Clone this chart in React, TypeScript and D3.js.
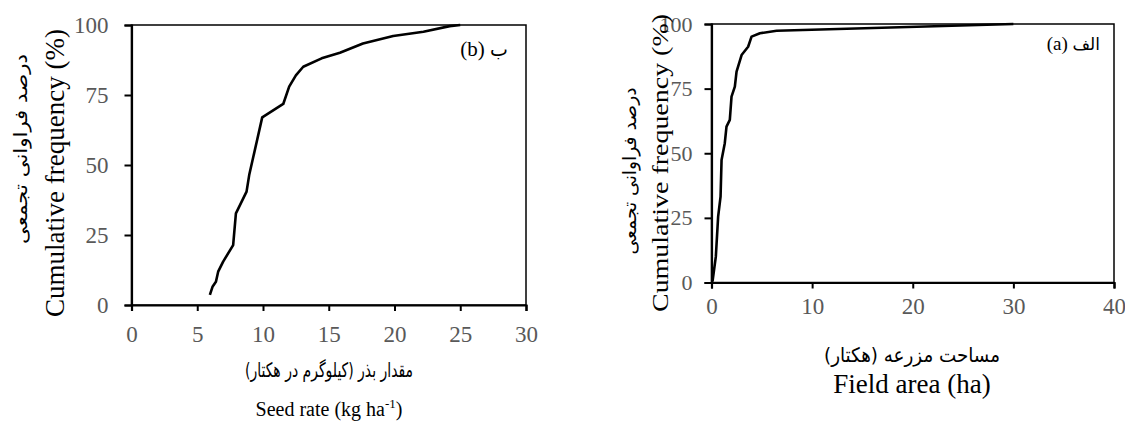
import * as d3 from "d3";
import { useEffect, useRef } from "react";

// panel (b): seed rate
const seedRate = [5.96, 6.16, 6.42, 6.59, 6.97, 7.73, 7.94, 8.75, 8.95, 9.94, 11.54, 11.99, 12.5, 13.06, 14.46, 15.85, 17.6, 19.9, 22.2, 24.2, 25];
const seedFreq = [3.6, 6.5, 8.3, 11.9, 15.5, 21.4, 32.7, 40.5, 46.4, 67, 71.8, 78, 82, 85.1, 88.1, 90.1, 93.4, 96.1, 97.6, 99.6, 100];
const seedTicks = [0, 5, 10, 15, 20, 25, 30];

// panel (a): field area
const fieldArea = [0.1, 0.43, 0.66, 0.9, 1.0, 1.32, 1.49, 1.82, 1.99, 2.32, 2.49, 2.99, 3.64, 3.98, 4.81, 6.47, 30];
const fieldFreq = [0.4, 10, 25.5, 33.2, 47.4, 53.9, 60.3, 62.9, 71.9, 75.8, 81.6, 88, 91.2, 95.1, 96.4, 97.4, 100];
const fieldTicks = [0, 10, 20, 30, 40];

const freqTicks = [0, 25, 50, 75, 100];

const serif = '"Liberation Serif", "Times New Roman", Times, serif';
const arabic = '"DejaVu Sans", sans-serif';

export default function App() {
  const ref = useRef<SVGSVGElement>(null);

  useEffect(() => {
    if (!ref.current) return;
    const svg = d3.select(ref.current);
    svg.selectAll("*").remove();

    const panel = (o: any) => {
      const x = d3.scaleLinear().domain([0, o.xMax]).range([o.left, o.right]);
      const y = d3.scaleLinear().domain([0, 100]).range([o.bottom, o.top]);
      const g = svg.append("g");

      // frame
      g.append("rect")
        .attr("x", o.left).attr("y", o.top)
        .attr("width", o.right - o.left).attr("height", o.bottom - o.top)
        .attr("fill", "none").attr("stroke", "#000").attr("stroke-width", 1.5);

      const xa = g.append("g")
        .attr("transform", `translate(0,${o.bottom})`)
        .call(d3.axisBottom(x).tickValues(o.xTicks).tickSize(6).tickPadding(o.xPad).tickFormat(d3.format("d")));
      const ya = g.append("g")
        .attr("transform", `translate(${o.left},0)`)
        .call(d3.axisLeft(y).tickValues(freqTicks).tickSize(7).tickPadding(o.yPad).tickFormat(d3.format("d")));
      [xa, ya].forEach((a, k) => {
        a.attr("font-family", null).attr("font-size", null);
        a.select(".domain").attr("stroke", "#000").attr("stroke-width", 2.2);
        a.selectAll(".tick line").attr("stroke", "#000").attr("stroke-width", 2);
        a.selectAll(".tick text").attr("fill", "#595959")
          .style("font-family", serif).style("font-size", `${k === 0 ? o.xTickSize : o.yTickSize}px`);
      });

      const line = d3.line<number>()
        .x((_, i) => x(o.xs[i]))
        .y((d) => y(d));
      g.append("path")
        .datum(o.ys)
        .attr("fill", "none").attr("stroke", "#000").attr("stroke-width", 2.6)
        .attr("stroke-linejoin", "round")
        .attr("d", line);

      // panel tag: latin letter in brackets, then the persian letter
      const tag = g.append("text")
        .attr("x", o.tagX).attr("y", o.tagY)
        .attr("text-anchor", "end")
        .style("font-size", `${o.tagSize}px`);
      tag.append("tspan").style("font-family", serif).text(o.tagEn + " ");
      tag.append("tspan").style("font-family", arabic).style("font-size", `${o.tagSize - 2}px`).text(o.tagFa);

      g.append("text")
        .attr("transform", `translate(${o.yTitleX},${o.yTitleY}) rotate(-90)`)
        .attr("text-anchor", "middle")
        .attr("textLength", o.yTitleLen).attr("lengthAdjust", "spacingAndGlyphs")
        .style("font-family", serif).style("font-size", `${o.yTitleSize}px`)
        .text("Cumulative frequency (%)");
      g.append("text")
        .attr("transform", `translate(${o.faTitleX},${o.faTitleY}) rotate(-90)`)
        .attr("text-anchor", "middle")
        .attr("textLength", o.faTitleLen).attr("lengthAdjust", "spacingAndGlyphs")
        .style("font-family", arabic).style("font-size", "18px")
        .text("درصد فراوانی تجمعی");

      g.append("text")
        .attr("x", o.xTitleX).attr("y", o.xFaY)
        .attr("text-anchor", "middle")
        .attr("textLength", o.xFaLen).attr("lengthAdjust", "spacingAndGlyphs")
        .style("font-family", arabic).style("font-size", "20px")
        .text(o.xFa);
      const en = g.append("text")
        .attr("x", o.xTitleX).attr("y", o.xEnY)
        .attr("text-anchor", "middle")
        .style("font-family", serif).style("font-size", `${o.xEnSize}px`);
      if (o.seed) {
        en.append("tspan").text("Seed rate (kg ha");
        en.append("tspan").attr("dy", -8).style("font-size", "13px").text("-1");
        en.append("tspan").attr("dy", 8).text(")");
      } else {
        en.text("Field area (ha)");
      }
    };

    panel({
      xs: seedRate, ys: seedFreq, xTicks: seedTicks, xMax: 30,
      left: 131.5, right: 526, top: 25, bottom: 305,
      xPad: 15, yPad: 16, xTickSize: 23, yTickSize: 23,
      tagEn: "(b)", tagFa: "ب", tagX: 508, tagY: 56, tagSize: 21,
      yTitleX: 64, yTitleY: 173, yTitleSize: 27, yTitleLen: 288,
      faTitleX: 27, faTitleY: 149, faTitleLen: 190,
      xFa: "مقدار بذر (کیلوگرم در هکتار)", xFaLen: 168, xFaY: 377,
      xEnY: 416, xEnSize: 20, xTitleX: 329, seed: true,
    });
    panel({
      xs: fieldArea, ys: fieldFreq, xTicks: fieldTicks, xMax: 40,
      left: 711.5, right: 1114, top: 24, bottom: 282.5,
      xPad: 9, yPad: 12, xTickSize: 23, yTickSize: 22,
      tagEn: "(a)", tagFa: "الف", tagX: 1100, tagY: 50, tagSize: 19,
      yTitleX: 668, yTitleY: 163, yTitleSize: 23, yTitleLen: 298,
      faTitleX: 636, faTitleY: 171, faTitleLen: 167,
      xFa: "مساحت مزرعه (هکتار)", xFaLen: 176, xFaY: 362,
      xEnY: 393, xEnSize: 27, xTitleX: 912, seed: false,
    });
  }, []);

  return (
    <svg ref={ref} width={1125} height={427}
      style={{ position: "absolute", left: 0, top: 0, background: "#fff" }} />
  );
}
